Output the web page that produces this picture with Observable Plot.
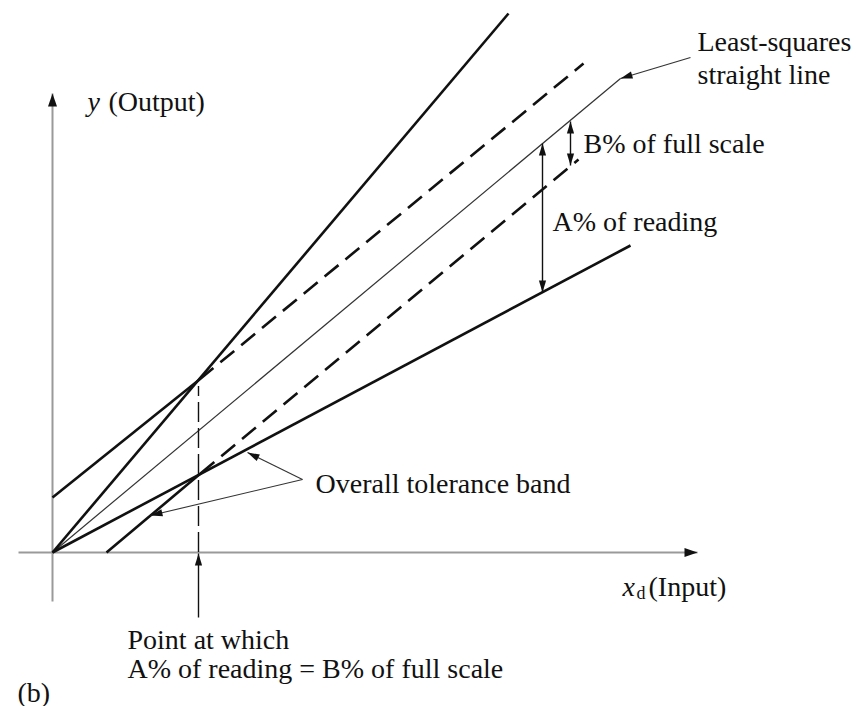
<!DOCTYPE html>
<html>
<head>
<meta charset="utf-8">
<script src="https://cdn.jsdelivr.net/npm/d3@7"></script>
<script src="https://cdn.jsdelivr.net/npm/@observablehq/plot@0.6"></script>
<style>
  html, body { margin: 0; padding: 0; background: #fff; }
  svg { display: block; }
</style>
</head>
<body>
<div id="chart"></div>
<script>
// ---- data (x = input, y = output, arbitrary units; origin at 0,0) ----
const axesLines = [
  {name: "x axis", x1: -3.4, y1: 0, x2: 64.5, y2: 0},
  {name: "y axis", x1: 0, y1: -4.9, x2: 0, y2: 45.9}
];
const leastSquares = [{x1: 0, y1: 0, x2: 56.8, y2: 47.4}];
const readingBand = [
  {name: "+A% of reading", x1: 0, y1: 0, x2: 45.6, y2: 53.9},
  {name: "-A% of reading", x1: 0, y1: 0, x2: 57.8, y2: 30.7}
];
const fullScaleSolid = [
  {name: "+B% of full scale", x1: 0, y1: 5.5, x2: 14.7, y2: 17.3},
  {name: "-B% of full scale", x1: 5.4, y1: 0, x2: 14.8, y2: 7.9}
];
const fullScaleDashed = [
  {name: "+B% of full scale", x1: 14.7, y1: 17.3, x2: 53.1, y2: 48.9},
  {name: "-B% of full scale", x1: 14.8, y1: 7.9, x2: 52.6, y2: 39.3}
];
const crossover = [{x: 14.6, y1: 0, y2: 16.6}];
const pointers = [
  {name: "least squares", x1: 63.8, y1: 49.5, x2: 56.8, y2: 47.4},
  {name: "band upper", x1: 25.0, y1: 7.3, x2: 19.5, y2: 10.0},
  {name: "band lower", x1: 25.0, y1: 7.3, x2: 9.8, y2: 3.7}
];
const crossoverPointer = [{x1: 14.6, y1: -6.5, x2: 14.6, y2: -0.1}];
const spans = [
  {name: "B%", x1: 51.8, y1: 43.1, x2: 51.8, y2: 38.7},
  {name: "A%", x1: 49.0, y1: 40.9, x2: 49.0, y2: 26.0}
];
const labels = [
  {text: "Least-squares", x: 64.5, y: 50.2},
  {text: "straight line", x: 64.5, y: 46.9},
  {text: "B% of full scale", x: 53.1, y: 40.0},
  {text: "A% of reading", x: 50.0, y: 32.2},
  {text: "Overall tolerance band", x: 26.3, y: 6.0},
  {text: "Point at which", x: 7.5, y: -9.6},
  {text: "A% of reading = B% of full scale", x: 7.5, y: -12.5},
  {text: "(b)", x: -3.5, y: -14.9},
  {text: "(Output)", x: 5.6, y: 44.2},
  {text: "(Input)", x: 59.6, y: -4.3}
];
const italicLabels = [
  {text: "y", x: 3.5, y: 44.2},
  {text: "x", x: 57.0, y: -4.3}
];
const subLabels = [{text: "d", x: 58.4, y: -4.6}];

const font = "Liberation Serif, Times New Roman, serif";
const ink = "#111";

const plot = Plot.plot({
  width: 856,
  height: 706,
  margin: 0,
  x: {domain: [-5.2, 80.4], axis: null},
  y: {domain: [-15.4, 55.2], axis: null},
  marks: [
    Plot.link(axesLines, {x1: "x1", y1: "y1", x2: "x2", y2: "y2", stroke: "#9a9a9a", strokeWidth: 2}),
    Plot.link(leastSquares, {x1: "x1", y1: "y1", x2: "x2", y2: "y2", stroke: "#333", strokeWidth: 1.2}),
    Plot.link(readingBand, {x1: "x1", y1: "y1", x2: "x2", y2: "y2", stroke: ink, strokeWidth: 2.6}),
    Plot.link(fullScaleSolid, {x1: "x1", y1: "y1", x2: "x2", y2: "y2", stroke: ink, strokeWidth: 2.6}),
    Plot.link(fullScaleDashed, {x1: "x1", y1: "y1", x2: "x2", y2: "y2", stroke: ink, strokeWidth: 2.6, strokeDasharray: "18,9"}),
    Plot.ruleX(crossover, {x: "x", y1: "y1", y2: "y2", stroke: ink, strokeWidth: 1.4, strokeDasharray: "20,6"}),
    Plot.link(pointers, {x1: "x1", y1: "y1", x2: "x2", y2: "y2", stroke: "#333", strokeWidth: 1.1}),
    Plot.link(crossoverPointer, {x1: "x1", y1: "y1", x2: "x2", y2: "y2", stroke: ink, strokeWidth: 1.4}),
    Plot.link(spans, {x1: "x1", y1: "y1", x2: "x2", y2: "y2", stroke: ink, strokeWidth: 1.4}),
    Plot.text(labels, {x: "x", y: "y", text: "text", textAnchor: "start", lineAnchor: "bottom", fontFamily: font, fontSize: 28, fill: ink}),
    Plot.text(italicLabels, {x: "x", y: "y", text: "text", textAnchor: "start", lineAnchor: "bottom", fontFamily: font, fontSize: 28, fontStyle: "italic", fill: ink}),
    Plot.text(subLabels, {x: "x", y: "y", text: "text", textAnchor: "start", lineAnchor: "bottom", fontFamily: font, fontSize: 18, fill: ink})
  ]
});

// filled arrowheads on selected link marks
const svg = d3.select(plot);
const defs = svg.insert("defs", ":first-child");
function head(id, len, half) {
  defs.append("marker")
    .attr("id", id)
    .attr("viewBox", `${-len - 1} ${-half - 1} ${len + 2} ${2 * half + 2}`)
    .attr("markerWidth", len + 2).attr("markerHeight", 2 * half + 2)
    .attr("refX", 0).attr("refY", 0)
    .attr("orient", "auto-start-reverse")
    .attr("markerUnits", "userSpaceOnUse")
    .append("path")
    .attr("d", `M0,0L${-len},${-half}L${-len},${half}Z`)
    .attr("fill", ink);
}
head("headAxis", 13, 4.5);
head("headSmall", 12, 3.6);
const linkGroups = svg.selectAll('g[aria-label="link"]').nodes();
// order: 0 axes, 1 least squares, 2 reading band, 3 full-scale solid, 4 dashed, 5 pointers, 6 crossover pointer, 7 spans
d3.select(linkGroups[0]).selectAll("path").attr("marker-end", "url(#headAxis)");
d3.select(linkGroups[5]).selectAll("path").attr("marker-end", "url(#headSmall)");
d3.select(linkGroups[6]).selectAll("path").attr("marker-end", "url(#headSmall)");
d3.select(linkGroups[7]).selectAll("path").attr("marker-end", "url(#headSmall)").attr("marker-start", "url(#headSmall)");

document.getElementById("chart").appendChild(plot);
</script>
</body>
</html>
